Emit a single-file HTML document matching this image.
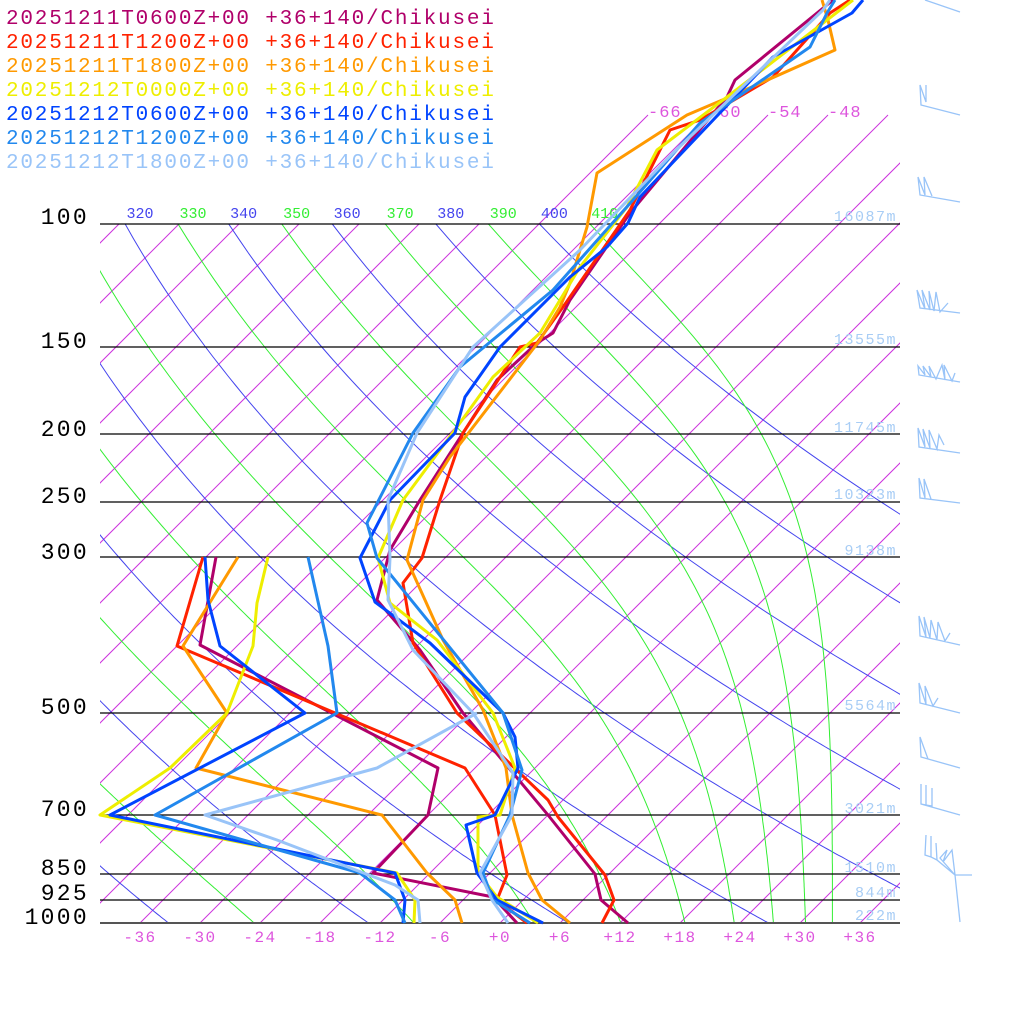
<!DOCTYPE html>
<html><head><meta charset="utf-8"><style>
body{margin:0;background:#fff;}
svg{display:block;}
text{font-family:"Liberation Mono","DejaVu Sans Mono",monospace;}
</style></head><body>
<svg id="s" width="1024" height="1024" viewBox="0 0 1024 1024" xmlns="http://www.w3.org/2000/svg">
<defs>
<clipPath id="cp"><rect x="100" y="100" width="800" height="823"/></clipPath>
<clipPath id="cp2"><rect x="100" y="224" width="800" height="699"/></clipPath>
</defs>
<g id="iso" clip-path="url(#cp)" stroke="#cc33dd" stroke-width="1" fill="none"></g>
<g id="ad" clip-path="url(#cp2)" fill="none" stroke-width="1"></g>
<g id="thl" font-size="15"></g>
<g fill="#dd55dd" font-size="17" letter-spacing="1">
<text x="648" y="117">-66</text><text x="708" y="117">-60</text><text x="768" y="117">-54</text><text x="828" y="117">-48</text>
</g>
<g stroke="#000" stroke-width="1.3">
<line x1="100" y1="224" x2="900" y2="224"/><line x1="100" y1="347" x2="900" y2="347"/>
<line x1="100" y1="434" x2="900" y2="434"/><line x1="100" y1="502" x2="900" y2="502"/>
<line x1="100" y1="557" x2="900" y2="557"/><line x1="100" y1="713" x2="900" y2="713"/>
<line x1="100" y1="815" x2="900" y2="815"/><line x1="100" y1="874" x2="900" y2="874"/>
<line x1="100" y1="900" x2="900" y2="900"/><line x1="100" y1="923" x2="900" y2="923" stroke="#555" stroke-width="2"/>
</g>
<g font-size="23" fill="#000" text-anchor="end" letter-spacing="2.3">
<text x="89" y="224">100</text><text x="89" y="348">150</text><text x="89" y="436">200</text>
<text x="89" y="503">250</text><text x="89" y="559">300</text><text x="89" y="714">500</text>
<text x="89" y="816">700</text><text x="89" y="875">850</text><text x="89" y="900">925</text><text x="89" y="924">1000</text>
</g>
<g font-size="15" fill="#a8cdf5" text-anchor="end" letter-spacing="1.5">
<text x="897" y="221">16087m</text><text x="897" y="344">13555m</text><text x="897" y="432">11745m</text>
<text x="897" y="499">10323m</text><text x="897" y="555">9138m</text><text x="897" y="710">5564m</text>
<text x="897" y="813">3021m</text><text x="897" y="872">1510m</text><text x="897" y="897">844m</text><text x="897" y="920">222m</text>
</g>
<g id="tl" font-size="16" fill="#dd55dd" text-anchor="middle" letter-spacing="1.5"></g>

<g fill="none" stroke-width="3" stroke-linejoin="round">
<polyline stroke="#b0006a" points="628,923 601,900 595,874 548,815 463,713 420,650 377,600 390,550 420,500 463,433 497,380 537,343 553,333 570,300 630,213 727,97 735,80 833,0"/>
<polyline stroke="#b0006a" points="216,557 200,645 438,768 428,815 373,873 493,897 517,923"/>
<polyline stroke="#ff2200" points="602,923 614,900 605,875 558,817 548,800 457,713 413,643 403,583 422,558 440,500 463,433 520,347 537,343 563,307 630,210 670,130 700,120 773,77 830,13 850,0"/>
<polyline stroke="#ff2200" points="203,557 177,646 465,768 495,815 507,875 497,900 527,923"/>
<polyline stroke="#ff9900" points="570,923 542,900 528,873 512,815 506,768 483,710 443,640 407,560 423,500 450,457 540,340 560,307 570,283 587,227 597,173 687,115 727,98 835,50 828,20 822,0"/>
<polyline stroke="#ff9900" points="238,557 183,646 227,713 196,768 382,815 427,873 455,900 462,923"/>
<polyline stroke="#eeee00" points="538,923 497,897 478,873 478,817 500,815 515,768 493,713 437,640 390,603 378,558 403,500 457,427 493,377 540,333 580,267 627,207 657,150 727,97 853,0"/>
<polyline stroke="#eeee00" points="268,557 257,603 253,646 227,713 170,768 100,815 397,873 415,900 414,923"/>
<polyline stroke="#0044ff" points="543,923 497,900 477,873 466,825 495,815 518,768 515,737 503,713 430,643 375,602 360,558 390,500 455,433 465,397 500,347 570,277 607,247 628,223 640,197 773,57 852,13 863,0"/>
<polyline stroke="#0044ff" points="205,557 208,600 220,646 305,713 110,815 395,873 405,900 403,923"/>
<polyline stroke="#2288ee" points="530,923 493,900 483,873 510,815 522,770 503,713 377,558 367,523 413,433 460,367 553,290 633,200 700,123 810,47 827,13 835,0"/>
<polyline stroke="#2288ee" points="308,557 328,646 337,713 155,815 360,873 395,900 405,923"/>
<polyline stroke="#99c4f8" points="508,923 492,900 480,873 512,815 513,773 473,713 413,650 388,600 390,558 388,500 417,433 473,347 580,250 673,153 823,10 830,0"/>
<polyline stroke="#99c4f8" points="477,713 377,768 205,815 277,840 395,885 418,900 420,923"/>
</g>

<g stroke="#99c4f8" stroke-width="1.3" fill="none">
<polyline points="925,0 960,12"/>
<polyline points="960,115 921,105 920,85 926,102 926,85"/>
<polyline points="960,202 920,195 918,177 925,195 924,177 932,196"/>
<polyline points="960,313 920,308 917,290 925,309 922,290 930,310 929,291 934,311 936,292 940,312 948,303"/>
<polyline points="960,382 919,375 918,366 925,375 923,366 931,377 929,366 936,379 942,365 945,380 944,365 952,381 955,373"/>
<polyline points="960,453 919,447 918,428 925,447 923,429 930,448 929,430 937,449 939,435 944,445"/>
<polyline points="960,503 920,498 919,478 925,498 924,479 931,499"/>
<polyline points="960,645 920,636 919,616 926,637 924,617 930,638 931,620 937,640 938,622 945,641 950,633"/>
<polyline points="960,713 920,703 919,683 926,704 925,686 933,706 938,698"/>
<polyline points="960,768 921,757 920,737 928,759"/>
<polyline points="960,815 921,804 921,784 921,804 926,805 926,785 926,805 932,806 932,788"/>
<polyline points="925,855 926,835 925,855 931,857 931,836 931,857 937,860 936,843 937,860 955,875 940,858 947,850 943,862 952,850 955,875 960,922 955,875 972,875"/>
</g>

<g font-size="21" letter-spacing="1.8">
<text x="6" y="24" fill="#b0006a">20251211T0600Z+00 +36+140/Chikusei</text>
<text x="6" y="48" fill="#ff2200">20251211T1200Z+00 +36+140/Chikusei</text>
<text x="6" y="72" fill="#ff9900">20251211T1800Z+00 +36+140/Chikusei</text>
<text x="6" y="96" fill="#eeee00">20251212T0000Z+00 +36+140/Chikusei</text>
<text x="6" y="120" fill="#0044ff">20251212T0600Z+00 +36+140/Chikusei</text>
<text x="6" y="144" fill="#2288ee">20251212T1200Z+00 +36+140/Chikusei</text>
<text x="6" y="168" fill="#99c4f8">20251212T1800Z+00 +36+140/Chikusei</text>
</g>
</svg>
<script>
(function(){
var NS="http://www.w3.org/2000/svg";
function Y(p){return 923-303.6*Math.log(1000/p);}
function X(T,y){return 500+10*T+(923-y);}
var iso=document.getElementById('iso');
for(var T=-150;T<=60;T+=6){
 var yt=(T>=-66)?115:224;
 var l=document.createElementNS(NS,'line');
 l.setAttribute('x1',X(T,923));l.setAttribute('y1',923);l.setAttribute('x2',X(T,yt));l.setAttribute('y2',yt);
 iso.appendChild(l);
}
function thetae(Tk,p){
 var Tc=Tk-273.15;var es=6.112*Math.exp(17.67*Tc/(Tc+243.5));
 var r=0.622*es/Math.max(p-es,1);
 return Tk*Math.pow(1000/p,0.2854*(1-0.28*r))*Math.exp((3376/Tk-2.54)*r*(1+0.81*r));
}
function solve(te,p){
 var lo=150,hi=330;
 for(var i=0;i<50;i++){var m=(lo+hi)/2;if(thetae(m,p)>te)hi=m;else lo=m;}
 return (lo+hi)/2-273.15;
}
var ad=document.getElementById('ad');
var thl=document.getElementById('thl');
function label(v,col,T100){
 var xl=X(T100,224)+15;
 if(xl>=95&&xl<=620){
  var t=document.createElementNS(NS,'text');
  t.setAttribute('x',xl);t.setAttribute('y',218);t.setAttribute('fill',col);t.setAttribute('text-anchor','middle');
  t.textContent=v;thl.appendChild(t);
 }
}
/* dry adiabats (blue) */
for(var th=200;th<=400;th+=20){
 var pts=[];
 for(var p=95;p<=1005;p+=5){var y=Y(p);var T=th*Math.pow(p/1000,0.2857)-273.15;pts.push(X(T,y).toFixed(1)+","+y.toFixed(1));}
 var pl=document.createElementNS(NS,'polyline');
 pl.setAttribute('points',pts.join(' '));pl.setAttribute('stroke',"#4444ee");
 ad.appendChild(pl);
 label(th,"#4444ee",th*Math.pow(0.1,0.2857)-273.15);
}
/* moist (green) */
for(var te=210;te<=410;te+=20){
 var pts=[];
 for(var p=95;p<=1005;p+=5){var y=Y(p);var T=solve(te,p);pts.push(X(T,y).toFixed(1)+","+y.toFixed(1));}
 var pl=document.createElementNS(NS,'polyline');
 pl.setAttribute('points',pts.join(' '));pl.setAttribute('stroke',"#33ee33");
 ad.appendChild(pl);
 label(te,"#33ee33",solve(te,100));
}
var tl=document.getElementById('tl');
for(var T=-36;T<=36;T+=6){
 var t=document.createElementNS(NS,'text');
 t.setAttribute('x',500+10*T);t.setAttribute('y',942);
 t.textContent=(T>0?"+":"")+(T==0?"+0":T);
 tl.appendChild(t);
}
})();
</script>
</body></html>
